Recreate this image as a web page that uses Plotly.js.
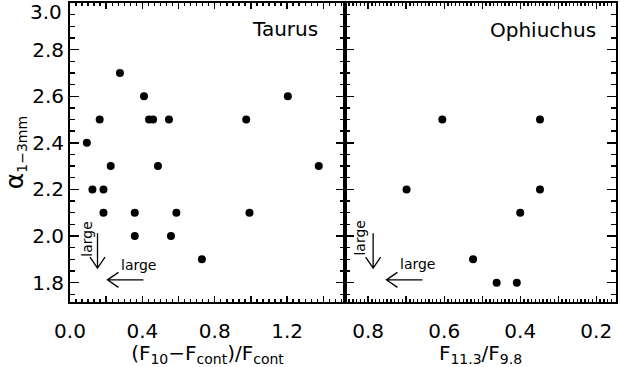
<!DOCTYPE html>
<html>
<head>
<meta charset="utf-8">
<script src="https://cdn.plot.ly/plotly-3.0.1.min.js"></script>
<style>
  html, body { margin: 0; padding: 0; background: #fff; }
  #chart { width: 620px; height: 367px; }
</style>
</head>
<body>
<div id="chart"></div>
<script>
// Taurus: (F10 - Fcont)/Fcont vs alpha 1-3mm
const taurusX = [0.093, 0.164, 0.276, 0.409, 0.437, 0.459, 0.547, 0.974, 1.204,
                 0.225, 0.486, 1.375, 0.124, 0.185, 0.185, 0.358, 0.588, 0.992,
                 0.358, 0.558, 0.729];
const taurusY = [2.4, 2.5, 2.7, 2.6, 2.5, 2.5, 2.5, 2.5, 2.6,
                 2.3, 2.3, 2.3, 2.2, 2.2, 2.1, 2.1, 2.1, 2.1,
                 2.0, 2.0, 1.9];

// Ophiuchus: F11.3/F9.8 vs alpha 1-3mm
const ophX = [0.605, 0.348, 0.699, 0.348, 0.400, 0.524, 0.462, 0.409];
const ophY = [2.5, 2.5, 2.2, 2.2, 2.1, 1.9, 1.8, 1.8];

// "large" arrows (tip / tail in data units) and their labels
const arrowAxis = ["x", "x", "x2", "x2"];
const arrowTipX = [0.152, 0.207, 0.787, 0.752];
const arrowTipY = [1.862, 1.812, 1.862, 1.812];
const arrowTailX = [0.152, 0.406, 0.787, 0.657];
const arrowTailY = [2.012, 1.812, 2.012, 1.812];
const labelX = [0.092, 0.376, 0.8205, 0.670];
const labelY = [1.987, 1.876, 1.991, 1.880];
const labelAngle = [-90, 0, -90, 0];

const W = 620, H = 367;
const M = { l: 70, r: 4, t: 3, b: 65 };
const plotW = W - M.l - M.r;
const plotH = H - M.t - M.b;
const split = 275 / plotW;
const xRangeL = [0, 1.52];
const xRangeR = [0.861, 0.148];
const yRange = [1.717, 2.9999];

const kx = {
  x: (split * plotW) / (xRangeL[1] - xRangeL[0]),
  x2: ((1 - split) * plotW) / (xRangeR[1] - xRangeR[0])
};
const ky = plotH / (yRange[1] - yRange[0]);

function arrowPath(ax, tx, ty, sx, sy) {
  const L = 11, half = 7.5;
  let dx = (sx - tx) * kx[ax];
  let dy = -(sy - ty) * ky;
  const n = Math.sqrt(dx * dx + dy * dy);
  dx /= n; dy /= n;
  const px = -dy, py = dx;
  const w1 = [dx * L + px * half, dy * L + py * half];
  const w2 = [dx * L - px * half, dy * L - py * half];
  const toData = p => [tx + p[0] / kx[ax], ty - p[1] / ky];
  const a = toData(w1), b = toData(w2);
  return "M" + sx + "," + sy + " L" + tx + "," + ty +
         " M" + a[0] + "," + a[1] + " L" + tx + "," + ty + " L" + b[0] + "," + b[1];
}

const FONT = "DejaVu Sans, sans-serif";
const txtFont = size => ({ family: FONT, size: size, color: "black" });

const shapes = [];
const annotations = [];
for (let i = 0; i < arrowAxis.length; i++) {
  shapes.push({
    type: "path",
    xref: arrowAxis[i], yref: "y",
    path: arrowPath(arrowAxis[i], arrowTipX[i], arrowTipY[i], arrowTailX[i], arrowTailY[i]),
    line: { color: "black", width: 1.3 }
  });
  annotations.push({
    xref: arrowAxis[i], yref: "y",
    x: labelX[i], y: labelY[i],
    text: "large", showarrow: false, textangle: labelAngle[i],
    xanchor: "center", yanchor: "middle",
    font: txtFont(14)
  });
}

annotations.push({
  xref: "x domain", yref: "y domain", x: 0.909, y: 0.913,
  xanchor: "right", yanchor: "middle", showarrow: false,
  text: "Taurus", font: txtFont(20)
});
annotations.push({
  xref: "x2 domain", yref: "y domain", x: 0.935, y: 0.91,
  xanchor: "right", yanchor: "middle", showarrow: false,
  text: "Ophiuchus", font: txtFont(20)
});
// top tick label, kept inside the page like the original
annotations.push({
  xref: "paper", yref: "paper", x: -6 / plotW, y: 1 - 9 / plotH,
  xanchor: "right", yanchor: "middle", showarrow: false,
  text: "3.0", font: txtFont(20)
});

const traceT = {
  x: taurusX, y: taurusY, xaxis: "x", yaxis: "y",
  mode: "markers", type: "scatter",
  marker: { color: "black", size: 8 }
};
const traceO = {
  x: ophX, y: ophY, xaxis: "x2", yaxis: "y2",
  mode: "markers", type: "scatter",
  marker: { color: "black", size: 8 }
};

const axisBase = {
  showline: true, linecolor: "black", linewidth: 2,
  mirror: "allticks", ticks: "inside", tickcolor: "black",
  tickwidth: 1.4, showgrid: false, zeroline: false,
  tickfont: txtFont(20), tickmode: "linear", tick0: 0, tickformat: ".1f"
};
function minorTicks(step, len) {
  return { tickmode: "linear", tick0: 0, dtick: step, ticks: "inside",
           ticklen: len, tickwidth: 1.4, tickcolor: "black", showgrid: false };
}

const layout = {
  width: W, height: H,
  margin: M,
  showlegend: false,
  xaxis: Object.assign({}, axisBase, {
    domain: [0, split], range: xRangeL, anchor: "y",
    dtick: 0.2, ticklabelstep: 2, ticklen: 6,
    ticklabelstandoff: 10,
    minor: minorTicks(0.2 / 6, 3),
    title: { text: "(F<sub>10</sub>\u2212F<sub>cont</sub>)/F<sub>cont</sub>",
             font: txtFont(20), standoff: 2 }
  }),
  xaxis2: Object.assign({}, axisBase, {
    domain: [split, 1], range: xRangeR, anchor: "y2",
    dtick: 0.1, ticklabelstep: 2, ticklen: 6,
    ticklabelstandoff: 10,
    minor: minorTicks(0.01, 3),
    title: { text: "F<sub>11.3</sub>/F<sub>9.8</sub>",
             font: txtFont(20), standoff: 2 }
  }),
  yaxis: Object.assign({}, axisBase, {
    range: yRange, anchor: "x",
    dtick: 0.2, ticklen: 9,
    minor: minorTicks(0.05, 5),
    title: { text: "<span style='font-size:25px'>\u03b1</span><sub>1\u22123mm</sub>",
             font: txtFont(20), standoff: 16 }
  }),
  yaxis2: Object.assign({}, axisBase, {
    range: yRange, anchor: "x2", matches: "y",
    dtick: 0.2, ticklen: 9, showticklabels: false,
    minor: minorTicks(0.05, 5)
  }),
  shapes: shapes,
  annotations: annotations
};

Plotly.newPlot("chart", [traceT, traceO], layout, { staticPlot: true, displayModeBar: false });
</script>
</body>
</html>
